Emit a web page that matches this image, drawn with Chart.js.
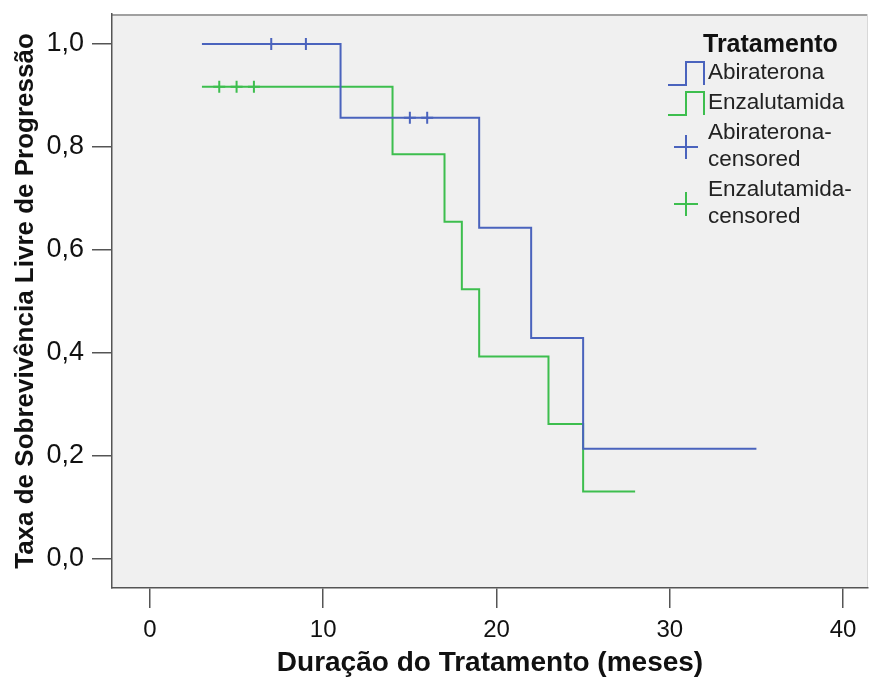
<!DOCTYPE html>
<html>
<head>
<meta charset="utf-8">
<script src="https://cdn.jsdelivr.net/npm/chart.js@4"></script>
<style>
    html, body { margin: 0; padding: 0; background: #ffffff; }
    #wrap { width: 869px; height: 680px; }
</style>
</head>
<body>
<div id="wrap"><canvas id="graficoKM" width="869" height="680"></canvas></div>
<script>
var grupos = ["Abiraterona", "Enzalutamida"];
var tempoAbi = [3, 11, 19, 22, 25, 35];
var sobrevAbi = [1.0, 0.857, 0.643, 0.429, 0.214, 0.214];
var tempoEnz = [3, 14, 17, 18, 19, 23, 25, 28];
var sobrevEnz = [0.917, 0.786, 0.655, 0.524, 0.393, 0.262, 0.131, 0.131];

// Censurados
var censTempoAbi = [7, 9, 15, 16];
var censSobrevAbi = [1.0, 1.0, 0.857, 0.857];
var censTempoEnz = [4, 5, 6];
var censSobrevEnz = [0.917, 0.917, 0.917];

var ticksX = [0, 10, 20, 30, 40];
var ticksY = [0, 0.2, 0.4, 0.6, 0.8, 1.0];
var legendaTitulo = "Tratamento";
var legendaTextos = [["Abiraterona"], ["Enzalutamida"], ["Abiraterona-", "censored"], ["Enzalutamida-", "censored"]];

var corAzul = "#4a63bd";
var corVerde = "#3dbe4e";
var fonte = "'Liberation Sans', Arial, sans-serif";

function pontos(xs, ys) {
    var arr = [];
    for (var i = 0; i < xs.length; i++) {
        arr.push({ x: xs[i], y: ys[i] });
    }
    return arr;
}

// fundo cinza e bordas superior/direita
var fundoPlugin = {
    id: 'fundo',
    beforeDraw: function(chart) {
        var ctx = chart.ctx;
        var a = chart.chartArea;
        ctx.save();
        ctx.fillStyle = "#f0f0f0";
        ctx.fillRect(a.left, a.top, a.right - a.left, a.bottom - a.top);
        ctx.strokeStyle = "#a0a0a0";
        ctx.lineWidth = 2;
        ctx.beginPath();
        ctx.moveTo(a.left, a.top + 1);
        ctx.lineTo(a.right, a.top + 1);
        ctx.stroke();
        ctx.strokeStyle = "#d8d8d8";
        ctx.lineWidth = 1;
        ctx.beginPath();
        ctx.moveTo(a.right - 0.5, a.top);
        ctx.lineTo(a.right - 0.5, a.bottom);
        ctx.stroke();
        ctx.restore();
    }
};

// legenda no estilo SPSS
var legendaPlugin = {
    id: 'legendaKM',
    afterDraw: function(chart) {
        var ctx = chart.ctx;
        var cores = [corAzul, corVerde, corAzul, corVerde];
        var centros = [73, 103, 146, 203];
        var xTexto = 708;
        ctx.save();
        ctx.fillStyle = "#111";
        ctx.font = "bold 25px " + fonte;
        ctx.textBaseline = "middle";
        ctx.fillText(legendaTitulo, 703, 45);
        ctx.font = "22.5px " + fonte;
        for (var i = 0; i < legendaTextos.length; i++) {
            var cy = centros[i];
            ctx.strokeStyle = cores[i];
            ctx.lineWidth = 2;
            ctx.beginPath();
            if (i < 2) {
                ctx.moveTo(668, cy + 12);
                ctx.lineTo(686, cy + 12);
                ctx.lineTo(686, cy - 11);
                ctx.lineTo(704, cy - 11);
                ctx.lineTo(704, cy + 12);
            } else {
                ctx.moveTo(674, cy + 1);
                ctx.lineTo(698, cy + 1);
                ctx.moveTo(686, cy - 11);
                ctx.lineTo(686, cy + 13);
            }
            ctx.stroke();
            ctx.fillStyle = "#222";
            var linhas = legendaTextos[i];
            if (linhas.length == 1) {
                ctx.fillText(linhas[0], xTexto, cy);
            } else {
                ctx.fillText(linhas[0], xTexto, cy - 13);
                ctx.fillText(linhas[1], xTexto, cy + 14);
            }
        }
        ctx.restore();
    }
};

new Chart(document.getElementById("graficoKM"), {
    type: 'scatter',
    data: {
        datasets: [{
            label: grupos[0],
            data: pontos(tempoAbi, sobrevAbi),
            showLine: true,
            stepped: 'before',
            borderColor: corAzul,
            borderWidth: 2,
            pointRadius: 0,
            fill: false
        }, {
            label: grupos[1],
            data: pontos(tempoEnz, sobrevEnz),
            showLine: true,
            stepped: 'before',
            borderColor: corVerde,
            borderWidth: 2,
            pointRadius: 0,
            fill: false
        }, {
            label: grupos[0] + "-censored",
            data: pontos(censTempoAbi, censSobrevAbi),
            pointStyle: 'cross',
            pointRadius: 6,
            borderColor: corAzul,
            backgroundColor: corAzul,
            borderWidth: 2
        }, {
            label: grupos[1] + "-censored",
            data: pontos(censTempoEnz, censSobrevEnz),
            pointStyle: 'cross',
            pointRadius: 6,
            borderColor: corVerde,
            backgroundColor: corVerde,
            borderWidth: 2
        }]
    },
    options: {
        responsive: false,
        animation: false,
        layout: { autoPadding: false, padding: { top: 14, right: 1, left: 0, bottom: 0 } },
        plugins: {
            legend: { display: false },
            tooltip: { enabled: false }
        },
        scales: {
            x: {
                type: 'linear',
                min: -2.19,
                max: 41.44,
                afterFit: function(scale) {
                    scale.height = 92;
                    scale.paddingLeft = 0;
                    scale.paddingRight = 0;
                },
                afterBuildTicks: function(scale) {
                    scale.ticks = ticksX.map(function(v) { return { value: v }; });
                },
                grid: {
                    display: true,
                    drawOnChartArea: false,
                    drawTicks: true,
                    tickLength: 20,
                    color: "#555",
                    lineWidth: 1.5
                },
                border: { display: true, color: "#555", width: 1.5 },
                ticks: {
                    padding: 8,
                    color: "#111",
                    font: { family: fonte, size: 24 }
                },
                title: {
                    display: true,
                    text: "Duração do Tratamento (meses)",
                    color: "#111",
                    font: { family: fonte, size: 28, weight: 'bold' },
                    padding: { top: 0, bottom: 0 }
                }
            },
            y: {
                type: 'linear',
                min: -0.0563,
                max: 1.0583,
                afterFit: function(scale) {
                    scale.width = 112;
                    scale.paddingTop = 0;
                    scale.paddingBottom = 0;
                },
                afterBuildTicks: function(scale) {
                    scale.ticks = ticksY.map(function(v) { return { value: v }; });
                },
                grid: {
                    display: true,
                    drawOnChartArea: false,
                    drawTicks: true,
                    tickLength: 20,
                    color: "#555",
                    lineWidth: 1.5
                },
                border: { display: true, color: "#555", width: 1.5 },
                ticks: {
                    padding: 8,
                    color: "#111",
                    font: { family: fonte, size: 27 },
                    callback: function(v) { return v.toFixed(1).replace('.', ','); }
                },
                title: {
                    display: true,
                    text: "Taxa de Sobrevivência Livre de Progressão",
                    color: "#111",
                    font: { family: fonte, size: 26, weight: 'bold' },
                    padding: { top: 10, bottom: 0 }
                }
            }
        }
    },
    plugins: [fundoPlugin, legendaPlugin]
});
</script>
</body>
</html>
